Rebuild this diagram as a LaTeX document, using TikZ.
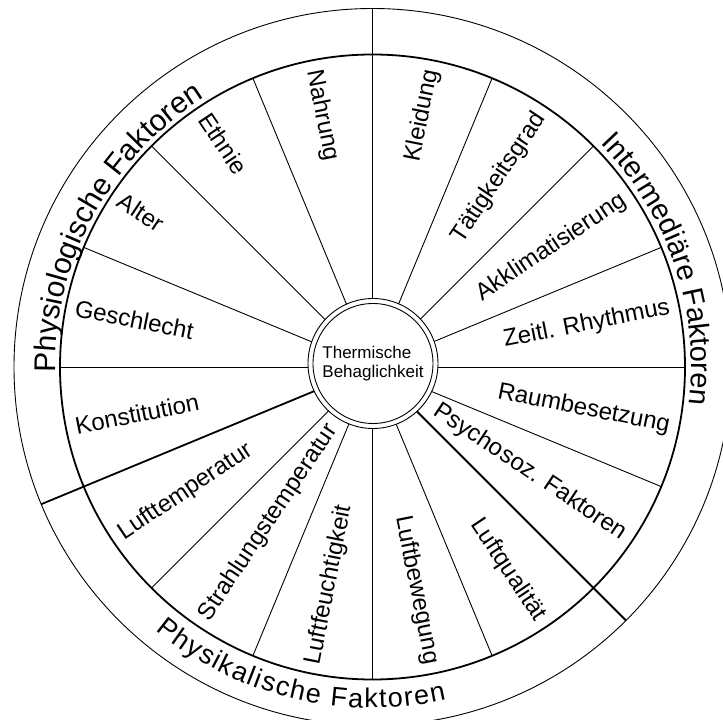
\documentclass[tikz,border=0pt]{standalone}
\usepackage{fontspec}
\setmainfont{Liberation Sans}
\usetikzlibrary{decorations.text}
\begin{document}
\begin{tikzpicture}[x=1pt,y=1pt,
  thinline/.style={line width=0.9pt},
  thickline/.style={line width=1.8pt},
  seglabel/.style={inner sep=0pt, font=\fontsize{24}{29}\selectfont},
  hubcircle/.style={circle, draw, thinline, inner sep=0pt},
  grouplabel/.style={decorate, decoration={text along path, text align={fit to path}, text={#1}}},
]
\useasboundingbox (-372.5,-353) rectangle (350.5,367);
\clip (-372.5,-353) rectangle (350.5,367);
\def\rout{358.5}
\def\rband{312.5}
\def\rlab{303}

% thin spokes between the single factors
\foreach \a in {67.5,45,22.5,0,-22.5,-67.5,-90,-112.5,-135,180,157.5,135,112.5}
  \draw[thinline] (0,0) -- (\a:\rband);
% thick dividers between the three groups
\foreach \a in {90,-45,-157.5}
  \draw[thickline] (0,0) -- (\a:\rout);

% outer ring and inner boundary of the group band
\draw[thinline] (0,0) circle[radius=\rout];
\draw[thickline] (0,0) circle[radius=\rband];

% hub
\node[hubcircle, fill=white, minimum size=130pt] (hub) at (0.5,3.5) {};
\node[hubcircle, minimum size=120pt, align=left,
      font=\fontsize{17}{18.4}\selectfont] (core) at (hub.center)
  {Thermische\\Behaglichkeit};

% factors on the right half, read outward
\foreach \a/\t/\n in {78.75/Kleidung/kleid, 56.25/Tätigkeitsgrad/taet,
    33.75/Akklimatisierung/akkl, 11.25/Zeitl. Rhythmus/rhyth,
    -11.25/Raumbesetzung/raum, -33.75/Psychosoz. Faktoren/psych,
    -56.25/Luftqualität/lqual, -78.75/Luftbewegung/lbew}
  \node[seglabel, rotate=\a, anchor=east] (\n) at (\a:\rlab) {\t};

% factors on the left half, read inward
\foreach \a/\t/\n in {101.25/Nahrung/nahr, 123.75/Ethnie/ethn,
    146.25/Alter/alter, 168.75/Geschlecht/geschl,
    191.25/Konstitution/konst, 213.75/Lufttemperatur/ltemp,
    236.25/Strahlungstemperatur/stemp, 258.75/Luftfeuchtigkeit/lfeucht}
  \node[seglabel, rotate=\a-180, anchor=west] (\n) at (\a:\rlab) {\t};

% group names along the band
\path[grouplabel={|\fontsize{30}{36}\selectfont|Physiologische Faktoren}]
  (181:317) arc[start angle=181, end angle=122, radius=317];
\path[grouplabel={|\fontsize{29}{36}\selectfont|Intermediäre Faktoren}]
  (44.5:319) arc[start angle=44.5, end angle=-6.5, radius=319];
\path[grouplabel={|\fontsize{27}{34}\selectfont|Physikalische Faktoren}]
  (-129.5:341) arc[start angle=-129.5, end angle=-77.5, radius=341];
\end{tikzpicture}
\end{document}
